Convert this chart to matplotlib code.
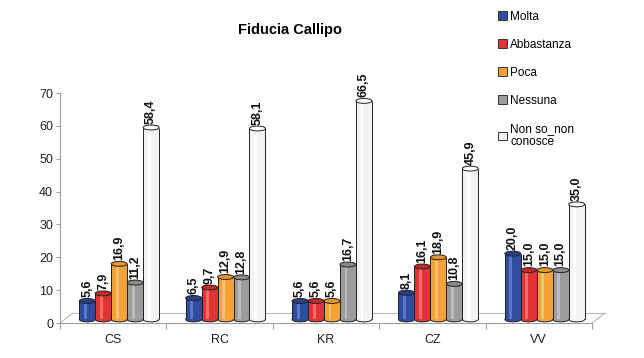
import numpy as np
import matplotlib.pyplot as plt
from matplotlib.patches import Ellipse, Patch

plt.rcParams['font.family'] = ['Liberation Sans', 'DejaVu Sans']

cats = ['CS', 'RC', 'KR', 'CZ', 'VV']
series = ['Molta', 'Abbastanza', 'Poca', 'Nessuna', 'Non so_non\nconosce']
molta = [5.6, 6.5, 5.6, 8.1, 20.0]
abbastanza = [7.9, 9.7, 5.6, 16.1, 15.0]
poca = [16.9, 12.9, 5.6, 18.9, 15.0]
nessuna = [11.2, 12.8, 16.7, 10.8, 15.0]
nonso = [58.4, 58.1, 66.5, 45.9, 35.0]
vals = [molta, abbastanza, poca, nessuna, nonso]

body = ['#2f4d9e', '#e03434', '#f2a236', '#9c9c9c', '#f3f3f3']
stripe = ['#5b78c8', '#f36a6a', '#f8c070', '#bcbcbc', '#ffffff']
cap = ['#2a3f88', '#c52828', '#e6962c', '#8a8a8a', '#fbfbfb']

fig = plt.figure(figsize=(6.44, 3.58), dpi=100)
ax = fig.add_axes([60/644, 1-323/358, 532/644, 230/358])
ax.set_xlim(0, 5)
ax.set_ylim(0, 70)

bw = 0.15
dx = 0.056   # depth shift
dy = 1.1
eh = 1.5
x0 = np.arange(len(cats)) + 0.5

# floor
fl = '#b8b8b8'
ax.plot([0.12, 5.12], [3.0, 3.0], color=fl, lw=0.8, clip_on=False)
ax.plot([0, 0.12], [0, 3.0], color=fl, lw=0.8, clip_on=False)
ax.plot([5, 5.12], [0, 3.0], color=fl, lw=0.8, clip_on=False)

for k, v in enumerate(vals):
    v = np.array(v)
    xc = x0 + dx + (k - 2) * bw
    ax.add_collection  # noqa
    for x, h in zip(xc, v):
        ax.add_patch(Ellipse((x, dy), bw, eh, facecolor=body[k], edgecolor='#222222', lw=0.7, zorder=3))
    ax.bar(xc, v, bw, bottom=dy, color=body[k], lw=0, zorder=4)
    ax.bar(xc - bw * 0.12, v, bw * 0.18, bottom=dy, color=stripe[k], lw=0, zorder=4)
    ax.vlines(xc - bw / 2, dy, v + dy, color='#222222', lw=0.7, zorder=5)
    ax.vlines(xc + bw / 2, dy, v + dy, color='#222222', lw=0.7, zorder=5)
    for x, h in zip(xc, v):
        ax.add_patch(Ellipse((x, h + dy), bw, eh, facecolor=cap[k], edgecolor='#222222', lw=0.7, zorder=6))
        ax.text(x, h + dy + eh / 2 + 0.4, f'{h:.1f}'.replace('.', ','), rotation=90,
                ha='center', va='bottom', fontsize=9, fontweight='bold', color='#111111')

for s in ['top', 'right']:
    ax.spines[s].set_visible(False)
ax.spines['left'].set_color('#a0a0a0')
ax.spines['bottom'].set_color('#a0a0a0')
ax.spines['left'].set_linewidth(0.8)
ax.spines['bottom'].set_linewidth(0.8)

ax.set_yticks(range(0, 71, 10))
ax.tick_params(axis='y', length=3, color='#a0a0a0', labelsize=9, labelcolor='#222222', pad=2)
ax.set_xticks(range(0, 6))
ax.set_xticklabels([])
ax.set_xticks(x0, minor=True)
ax.set_xticklabels(cats, minor=True)
ax.tick_params(axis='x', which='major', length=4, color='#a0a0a0')
ax.tick_params(axis='x', which='minor', length=0, labelsize=9, labelcolor='#222222', pad=8)

fig.text(290/644, 1-30/358, 'Fiducia Callipo', ha='center', va='center', fontsize=10.5, fontweight='bold')

handles = [Patch(facecolor=body[k], edgecolor='#333333', lw=0.7) for k in range(5)]
fig.legend(handles, series, loc='upper left', bbox_to_anchor=(492/644, 1-5/358), frameon=False,
           fontsize=8.5, handlelength=0.75, handleheight=0.75, handletextpad=0.3, labelspacing=1.35,
           borderpad=0)

fig.savefig('out.png', dpi=100, facecolor='white')
